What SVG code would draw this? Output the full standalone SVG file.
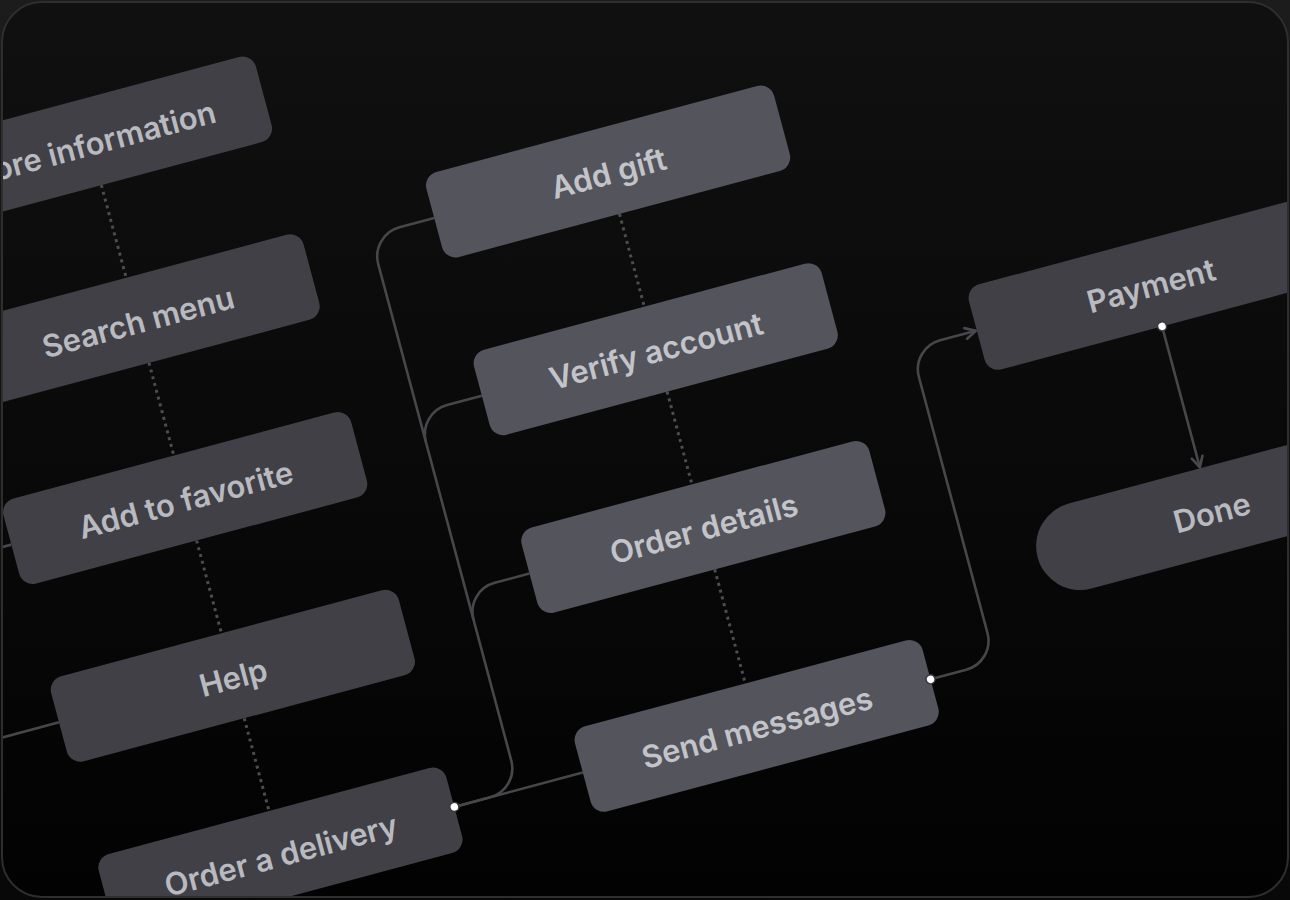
<svg xmlns="http://www.w3.org/2000/svg" width="1290" height="900" viewBox="0 0 1290 900">
  <defs>
    <linearGradient id="bgOut" x1="0" y1="0" x2="0" y2="1">
      <stop offset="0" stop-color="#1c1c1c"/>
      <stop offset="1" stop-color="#080808"/>
    </linearGradient>
    <linearGradient id="bgIn" x1="0" y1="0" x2="0" y2="1">
      <stop offset="0" stop-color="#101010"/>
      <stop offset="0.6" stop-color="#080808"/>
      <stop offset="1" stop-color="#020202"/>
    </linearGradient>
    <clipPath id="frameClip">
      <rect x="2" y="2" width="1286" height="895" rx="40"/>
    </clipPath>
    <marker id="arrow" viewBox="0 0 14 14" refX="12.5" refY="7" markerWidth="14" markerHeight="14" markerUnits="userSpaceOnUse" orient="auto">
      <path d="M2,1.5 L12.5,7 L2,12.5" fill="none" stroke="#4a4a4e" stroke-width="2.6" stroke-linecap="round" stroke-linejoin="round"/>
    </marker>
    <style>
      .node-a { fill: #404046; }
      .node-b { fill: #53545c; }
      .label { font-family: Inter, "Noto Sans", "Liberation Sans", sans-serif; font-weight: 600; font-size: 31px; text-anchor: middle; }
      .label-a { fill: #b9bac0; }
      .label-b { fill: #c3c4ca; }
      .conn { fill: none; stroke: #47474b; stroke-width: 2.6; }
      .dotted { fill: none; stroke: #4d4d51; stroke-width: 3; stroke-dasharray: 3 4; }
      .dot { fill: #ffffff; stroke: #3a3a3e; stroke-width: 1.5; }
    </style>
  </defs>

  <rect x="0" y="0" width="1290" height="900" fill="url(#bgOut)"/>
  <rect x="2" y="2" width="1286" height="895" rx="40" fill="url(#bgIn)"/>

  <g clip-path="url(#frameClip)">
    <g transform="rotate(-15)">
      <g id="connectors">
        <path class="dotted" d="M50 205 V301 M50 389 V485 M50 573 V669 M50 757 V853"/>
        <path class="dotted" d="M543 367 V463 M543 551 V647 M543 735 V853"/>
        <path class="conn" d="M-130 529 H-320"/>
        <path class="conn" d="M-130 713 H-320"/>
        <path class="conn" d="M230 897 H363"/>
        <path class="conn" d="M230 897 H267 A30 30 0 0 0 297 867 V353 A30 30 0 0 1 327 323 H363"/>
        <path class="conn" d="M363 507 H327 A30 30 0 0 0 297 537"/>
        <path class="conn" d="M363 691 H327 A30 30 0 0 0 297 721"/>
        <path class="conn" d="M723 897 H760 A30 30 0 0 0 790 867 V602 A30 30 0 0 1 820 572 H857" marker-end="url(#arrow)"/>
        <path class="conn" d="M1038 616 V762" marker-end="url(#arrow)"/>
      </g>

      <g id="node-more-information">
        <rect class="node-a" x="-130" y="117" width="360" height="88" rx="14"/>
        <text class="label label-a" x="50" y="174">More information</text>
      </g>
      <g id="node-search-menu">
        <rect class="node-a" x="-130" y="301" width="360" height="88" rx="14"/>
        <text class="label label-a" x="50" y="358">Search menu</text>
      </g>
      <g id="node-add-to-favorite">
        <rect class="node-a" x="-130" y="485" width="360" height="88" rx="14"/>
        <text class="label label-a" x="50" y="542">Add to favorite</text>
      </g>
      <g id="node-help">
        <rect class="node-a" x="-130" y="669" width="360" height="88" rx="14"/>
        <text class="label label-a" x="50" y="726">Help</text>
      </g>
      <g id="node-order-a-delivery">
        <rect class="node-a" x="-130" y="853" width="360" height="88" rx="14"/>
        <text class="label label-a" x="50" y="910">Order a delivery</text>
      </g>

      <g id="node-add-gift">
        <rect class="node-b" x="363" y="279" width="360" height="88" rx="14"/>
        <text class="label label-b" x="543" y="336">Add gift</text>
      </g>
      <g id="node-verify-account">
        <rect class="node-b" x="363" y="463" width="360" height="88" rx="14"/>
        <text class="label label-b" x="543" y="520">Verify account</text>
      </g>
      <g id="node-order-details">
        <rect class="node-b" x="363" y="647" width="360" height="88" rx="14"/>
        <text class="label label-b" x="543" y="704">Order details</text>
      </g>
      <g id="node-send-messages">
        <rect class="node-b" x="363" y="853" width="360" height="88" rx="14"/>
        <text class="label label-b" x="543" y="910">Send messages</text>
      </g>

      <g id="node-payment">
        <rect class="node-a" x="858" y="528" width="360" height="88" rx="14"/>
        <text class="label label-a" x="1038" y="585">Payment</text>
      </g>
      <g id="node-done">
        <rect class="node-a" x="858" y="763" width="360" height="88" rx="44"/>
        <text class="label label-a" x="1038" y="820">Done</text>
      </g>

      <g id="ports">
        <circle class="dot" cx="230" cy="897" r="4.5"/>
        <circle class="dot" cx="723" cy="897" r="4.5"/>
        <circle class="dot" cx="1038" cy="616" r="4.5"/>
      </g>
    </g>
  </g>

  <rect x="2" y="2" width="1286" height="895" rx="40" fill="none" stroke="#2e2e2e" stroke-width="2"/>
</svg>
